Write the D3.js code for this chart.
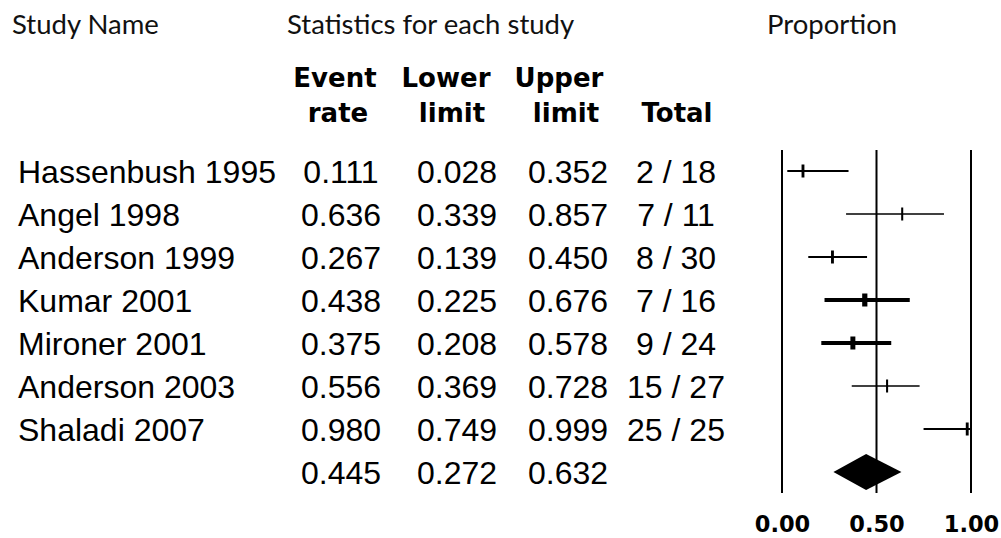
<!DOCTYPE html>
<html>
<head>
<meta charset="utf-8">
<script src="https://cdn.jsdelivr.net/npm/d3@7"></script>
<style>
  html, body { margin: 0; padding: 0; background: #fff; }
  svg { display: block; }
</style>
</head>
<body>
<svg id="chart" width="1001" height="538"></svg>
<script>
// Proportion meta-analysis: per-study event rates with 95% limits
const studies   = ["Hassenbush 1995", "Angel 1998", "Anderson 1999", "Kumar 2001",
                   "Mironer 2001", "Anderson 2003", "Shaladi 2007"];
const eventRate = [0.111, 0.636, 0.267, 0.438, 0.375, 0.556, 0.980];
const lowerLim  = [0.028, 0.339, 0.139, 0.225, 0.208, 0.369, 0.749];
const upperLim  = [0.352, 0.857, 0.450, 0.676, 0.578, 0.728, 0.999];
const events    = [2, 7, 8, 7, 9, 15, 25];
const totals    = [18, 11, 30, 16, 24, 27, 25];
// relative study weights (drive the thickness of each interval)
const weights   = [2, 1.3, 2, 4, 3.8, 1.3, 2];

// pooled estimate
const pooled = { rate: 0.445, lower: 0.272, upper: 0.632 };

const axisTicks   = [0, 0.5, 1];
const headerTop   = ["Study Name", "Statistics for each study", "Proportion"];
const colHeads1   = ["Event", "Lower", "Upper", ""];
const colHeads2   = ["rate", "limit", "limit", "Total"];

const svg = d3.select("#chart");
const ink = "#000";

const nRows = studies.length + 1;
const y = d3.scalePoint().domain(d3.range(nRows)).range([171, 472]);
const x = d3.scaleLinear().domain([0, 1]).range([782, 971]);
const wScale = d3.scaleLinear().domain([1, 4]).range([1.3, 4]);

// table column centres
const colX = [341, 457, 568, 676];

// top headers
const headFont = "Lato, 'Open Sans', sans-serif";
svg.append("g").selectAll("text")
  .data(headerTop)
  .join("text")
  .attr("x", (d, i) => [12, 287, 767][i])
  .attr("y", 34)
  .attr("font-family", headFont)
  .attr("font-size", 27.5)
  .attr("fill", "#111")
  .text(d => d);

// column headers
const boldFont = "'DejaVu Sans', Verdana, sans-serif";
const colHeadG = svg.append("g")
  .attr("font-family", boldFont)
  .attr("font-weight", "bold")
  .attr("font-size", 26)
  .attr("fill", ink)
  .attr("text-anchor", "middle");
colHeadG.selectAll("text.h1")
  .data(colHeads1)
  .join("text")
  .attr("class", "h1")
  .attr("x", (d, i) => [335, 446, 559, 676][i])
  .attr("y", 87)
  .text(d => d);
colHeadG.selectAll("text.h2")
  .data(colHeads2)
  .join("text")
  .attr("class", "h2")
  .attr("x", (d, i) => [338, 452, 566, 677][i])
  .attr("y", 122)
  .text(d => d);

// table body
const rows = studies.map((s, i) => ({
  name: s, rate: eventRate[i], lo: lowerLim[i], hi: upperLim[i],
  total: events[i] + " / " + totals[i], w: weights[i], i
}));

const bodyFont = "'Liberation Sans', Arial, sans-serif";
const fmt = d3.format(".3f");
const body = svg.append("g")
  .attr("font-family", bodyFont)
  .attr("font-size", 32)
  .attr("fill", ink);

body.selectAll("text.name")
  .data(rows)
  .join("text")
  .attr("class", "name")
  .attr("x", 18)
  .attr("y", d => y(d.i) + 12)
  .text(d => d.name);

const cells = rows.flatMap(d => [
  { v: fmt(d.rate), c: 0, i: d.i },
  { v: fmt(d.lo), c: 1, i: d.i },
  { v: fmt(d.hi), c: 2, i: d.i },
  { v: d.total, c: 3, i: d.i }
]).concat([
  { v: fmt(pooled.rate), c: 0, i: studies.length },
  { v: fmt(pooled.lower), c: 1, i: studies.length },
  { v: fmt(pooled.upper), c: 2, i: studies.length }
]);

body.selectAll("text.cell")
  .data(cells)
  .join("text")
  .attr("class", "cell")
  .attr("x", d => colX[d.c])
  .attr("y", d => y(d.i) + 12)
  .attr("text-anchor", "middle")
  .text(d => d.v);

// forest plot: reference lines
const plot = svg.append("g");
plot.selectAll("line.ref")
  .data(axisTicks)
  .join("line")
  .attr("class", "ref")
  .attr("x1", d => x(d)).attr("x2", d => x(d))
  .attr("y1", 150).attr("y2", 493)
  .attr("stroke", ink)
  .attr("stroke-width", 2);

// confidence intervals
plot.selectAll("line.ci")
  .data(rows)
  .join("line")
  .attr("class", "ci")
  .attr("x1", d => x(d.lo)).attr("x2", d => x(d.hi))
  .attr("y1", d => y(d.i)).attr("y2", d => y(d.i))
  .attr("stroke", ink)
  .attr("stroke-width", d => wScale(d.w));

// point estimates
plot.selectAll("rect.pt")
  .data(rows)
  .join("rect")
  .attr("class", "pt")
  .attr("x", d => x(d.rate) - wScale(d.w) * 0.65)
  .attr("width", d => wScale(d.w) * 1.3)
  .attr("y", d => y(d.i) - 6.5)
  .attr("height", 13)
  .attr("fill", ink);

// pooled diamond
const yd = y(studies.length);
plot.append("path")
  .attr("d", d3.line()([
    [x(pooled.lower), yd], [x(pooled.rate), yd - 18],
    [x(pooled.upper), yd], [x(pooled.rate), yd + 18]
  ]) + "Z")
  .attr("fill", ink);

// x axis labels
const axis = d3.axisBottom(x)
  .tickValues(axisTicks)
  .tickFormat(d3.format(".2f"))
  .tickSize(0)
  .tickPadding(3);
const axG = svg.append("g")
  .attr("transform", "translate(0,513)")
  .call(axis);
axG.select(".domain").remove();
axG.selectAll("text")
  .attr("font-family", boldFont)
  .attr("font-weight", "bold")
  .attr("font-size", 22.5)
  .attr("fill", ink);
</script>
</body>
</html>
